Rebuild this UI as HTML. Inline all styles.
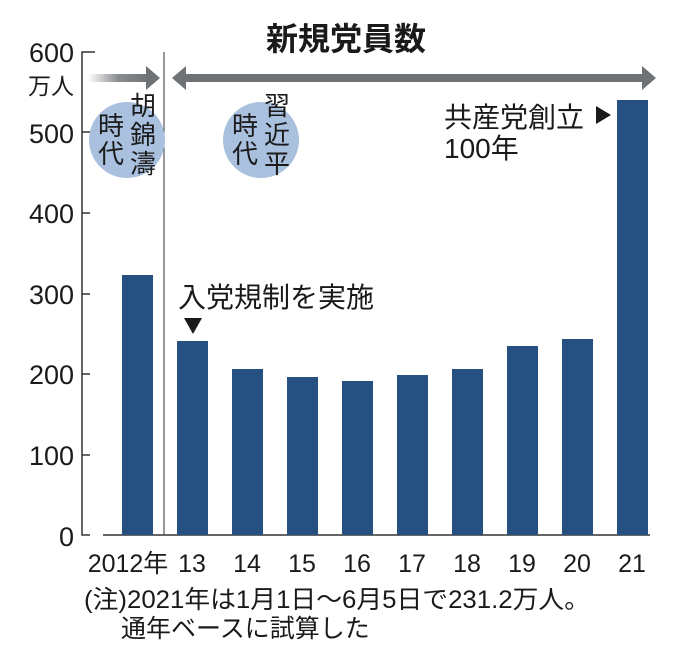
<!DOCTYPE html>
<html><head><meta charset="utf-8"><style>
body{margin:0;background:#fff;width:681px;height:652px;overflow:hidden}
svg text{font-family:"Liberation Sans","Noto Sans CJK JP",sans-serif;fill:#1a1a1a}
</style></head><body>
<svg width="681" height="652" viewBox="0 0 681 652">
<defs><linearGradient id="g" x1="0" x2="1"><stop offset="0" stop-color="#fff"/><stop offset="0.5" stop-color="#8a8d92"/><stop offset="1" stop-color="#6e7176"/></linearGradient></defs>
<text x="346" y="50" font-size="32" font-weight="bold" text-anchor="middle">新規党員数</text>
<g font-size="27" text-anchor="end">
<text x="74" y="62">600</text><text x="74" y="143">500</text><text x="74" y="223">400</text>
<text x="74" y="304">300</text><text x="74" y="384">200</text><text x="74" y="465">100</text><text x="74" y="546">0</text>
</g>
<text x="28" y="94" font-size="23">万人</text>
<g stroke="#333" stroke-width="1.5" fill="none">
<path d="M95 52H82V535H90"/><path d="M82 132H90M82 213H90M82 294H90M82 374H90M82 455H90"/>
<path d="M103 535H650"/><path d="M164 52V535" stroke-width="1"/>
</g>
<rect x="88" y="74" width="60" height="8" fill="url(#g)"/><polygon points="146,66 160,78 146,90" fill="#6e7176"/>
<rect x="184" y="74" width="460" height="8" fill="#6e7176"/>
<polygon points="186,66 172,78 186,90" fill="#6e7176"/><polygon points="642,66 656,78 642,90" fill="#6e7176"/>
<circle cx="127" cy="140" r="38" fill="#a9c0de"/><circle cx="261" cy="140" r="38" fill="#a9c0de"/>
<g font-size="26" text-anchor="middle">
<text x="111" y="135">時</text><text x="111" y="163">代</text>
<text x="143" y="115">胡</text><text x="143" y="144">錦</text><text x="143" y="173">濤</text>
<text x="245" y="135">時</text><text x="245" y="163">代</text>
<text x="277" y="115">習</text><text x="277" y="144">近</text><text x="277" y="173">平</text>
</g>
<g fill="#26507f">
<rect x="122" y="275" width="31" height="260"/><rect x="177" y="341" width="31" height="194"/>
<rect x="232" y="369" width="31" height="166"/><rect x="287" y="377" width="31" height="158"/>
<rect x="342" y="381" width="31" height="154"/><rect x="397" y="375" width="31" height="160"/>
<rect x="452" y="369" width="31" height="166"/><rect x="507" y="346" width="31" height="189"/>
<rect x="562" y="339" width="31" height="196"/><rect x="617" y="100" width="31" height="435"/>
</g>
<text x="178" y="307" font-size="28">入党規制を実施</text>
<polygon points="184,318 202,318 193,334" fill="#1a1a1a"/>
<text x="444" y="127" font-size="28">共産党創立</text>
<polygon points="596,106 596,124 611,115" fill="#1a1a1a"/>
<text x="444" y="158" font-size="28">100年</text>
<g font-size="25" text-anchor="middle">
<text x="128" y="572">2012年</text><text x="192" y="572">13</text><text x="247" y="572">14</text>
<text x="302" y="572">15</text><text x="357" y="572">16</text><text x="412" y="572">17</text>
<text x="467" y="572">18</text><text x="522" y="572">19</text><text x="577" y="572">20</text><text x="632" y="572">21</text>
</g>
<text x="84" y="608" font-size="25" textLength="506" lengthAdjust="spacingAndGlyphs">(注)2021年は1月1日～6月5日で231.2万人。</text>
<text x="121" y="637" font-size="25">通年ベースに試算した</text>
</svg>
</body></html>
